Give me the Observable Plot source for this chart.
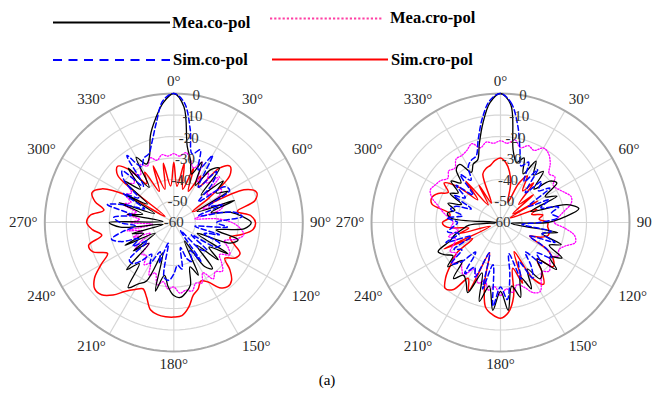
<!DOCTYPE html>
<html><head><meta charset="utf-8">
<script src="https://cdn.jsdelivr.net/npm/d3@7"></script>
<script src="https://cdn.jsdelivr.net/npm/@observablehq/plot@0.6"></script>
<style>
body{margin:0;background:#fff;width:652px;height:398px;overflow:hidden;font-family:'Liberation Serif','Times New Roman',serif}
#legend{display:block}
#chart svg{display:block}
#caption{height:26px;text-align:center;font-size:15px;line-height:16px;color:#000;padding-left:2px}
</style></head><body>
<svg id="legend" width="652" height="72"></svg>
<div id="chart"></div>
<div id="caption">(a)</div>
<script>
// angles (deg, clockwise from top) for every series
const angles = d3.range(0, 360, 5);
const angleTicks = [0,30,60,90,120,150,180,210,240,270,300,330];
const rTicks = [0,-10,-20,-30,-40,-50,-60];
const seriesNames = ["Mea.co-pol","Mea.cro-pol","Sim.co-pol","Sim.cro-pol"];

// ---- left pattern (dB) ----
const leftMeaCo = [0,-6,-24,-30,-36,-29,-40,-30,-27,-42,-30,-36,-31,-48,-30,-42,-33,-28,-24,-27,-40,-29,-32,-48,-31,-40,-33,-45,-32,-35,-50,-33,-38,-30,-27,-25,-26,-30,-35,-27,-45,-30,-27,-23,-35,-29,-45,-37,-50,-35,-45,-40,-55,-35,-30,-55,-38,-45,-33,-50,-34,-45,-30,-38,-27,-40,-25,-30,-27,-18,-11,-4];
const leftMeaCro = [-28,-29,-27,-30,-33,-29,-38,-32,-36,-30,-40,-33,-36,-45,-35,-38,-50,-40,-33,-29,-27,-30,-35,-32,-30,-34,-31,-28,-30,-28,-33,-29,-30,-27,-28,-27,-30,-29,-32,-30,-35,-33,-38,-36,-40,-39,-45,-38,-42,-48,-40,-45,-38,-50,-40,-44,-38,-42,-35,-38,-34,-36,-32,-34,-30,-33,-29,-31,-28,-30,-28,-29];
const leftSimCo = [0,-4,-16,-27,-24,-33,-24,-40,-29,-35,-45,-31,-30,-42,-36,-48,-32,-28,-40,-35,-50,-38,-45,-36,-37,-50,-40,-42,-55,-38,-45,-40,-42,-48,-38,-40,-36,-33,-34,-50,-40,-45,-38,-42,-37,-33,-33,-45,-38,-42,-34,-30,-36,-42,-35,-32,-40,-28,-36,-45,-33,-40,-30,-26,-38,-22,-30,-27,-26,-21,-13,-3];
const leftSimCro = [-32,-43,-32,-44,-33,-44,-35,-40,-27,-23,-26,-40,-50,-24,-19,-21,-30,-24,-22,-23,-28,-33,-30,-26,-27,-31,-26,-22,-21,-23,-28,-30,-27,-25,-20,-16.5,-16,-16,-16.5,-18,-23,-26,-24,-21,-16,-12.5,-12,-15,-21,-26,-20,-19,-26,-22,-19.5,-21,-27,-22,-19.5,-23,-35,-55,-26,-23,-28,-38,-33,-44,-32,-44,-32,-43];

// ---- right pattern (dB) ----
const rightMeaCo = [0,-5,-26,-31,-28,-35,-27,-33,-29,-38,-30,-28,-36,-31,-45,-28,-23,-30,-38,-55,-33,-40,-30,-35,-27,-32,-26,-36,-30,-28,-35,-26,-33,-24,-30,-19,-28,-19,-30,-22,-35,-24,-28,-30,-26,-35,-28,-33,-30,-28,-35,-38,-42,-45,-58,-37,-35,-38,-34,-40,-33,-36,-30,-34,-28,-27,-33,-30,-29,-22,-13,-4];
const rightMeaCro = [-22,-23,-21,-24,-22,-23,-20,-21,-24,-28,-27,-30,-29,-27,-25,-26,-30,-33,-35,-30,-25,-24,-28,-30,-29,-32,-30,-28,-30,-27,-23,-24,-28,-30,-27,-29,-26,-30,-28,-32,-30,-33,-35,-30,-32,-34,-31,-35,-33,-36,-38,-35,-40,-37,-38,-36,-33,-30,-26,-24,-25,-26,-28,-26,-27,-24,-24,-23,-21,-24,-22,-23];
const rightSimCo = [0,-4,-14,-25,-32,-29,-38,-30,-42,-33,-37,-32,-45,-35,-40,-32,-36,-33,-42,-50,-36,-40,-33,-45,-35,-31,-38,-33,-42,-35,-30,-40,-32,-45,-35,-24,-30,-21,-40,-28,-45,-32,-36,-31,-42,-34,-30,-38,-35,-45,-33,-40,-35,-38,-40,-35,-42,-36,-38,-45,-35,-40,-33,-42,-31,-36,-30,-28,-27,-20,-11,-3];
const rightSimCro = [-30,-32,-36,-42,-50,-40,-35,-42,-36,-48,-40,-53,-40,-55,-42,-45,-40,-42,-38,-38,-37,-37,-40,-45,-35,-30,-28,-36,-30,-25,-30,-45,-30,-38,-25,-18,-15.5,-17,-20,-32,-45,-25,-30,-22,-20,-24,-30,-35,-45,-31,-55,-40,-45,-35,-33,-36,-36,-27,-26,-28,-32,-28,-34,-45,-35,-50,-40,-50,-36,-34,-33,-31];

const U = 2.15;            // px per dB
const W = 652, H = 300;
const cxL = 173.3, cyPx = 150;
const offR = 326.7 / U;    // right pattern centre, in dB units

const pol = (off, dB, a) => {
  const r = Math.max(0, dB + 60), t = a * Math.PI / 180;
  return {x: off + r * Math.sin(t), y: r * Math.cos(t)};
};
const build = (off, vals, key) => vals.map((v, i) => ({...pol(off, v, angles[i]), key}));

const plots = [
  {off: 0, data: [leftMeaCo, leftMeaCro, leftSimCo, leftSimCro]},
  {off: offR, data: [rightMeaCo, rightMeaCro, rightSimCo, rightSimCro]}
];
const styles = {
  "Mea.co-pol": {stroke: "#000000", strokeWidth: 1.3},
  "Mea.cro-pol": {stroke: "#ff00ff", strokeWidth: 1.3, strokeDasharray: "1.3,1.6"},
  "Sim.co-pol": {stroke: "#0000ff", strokeWidth: 1.5, strokeDasharray: "5,3"},
  "Sim.cro-pol": {stroke: "#ff0000", strokeWidth: 1.5}
};
const series = {};
seriesNames.forEach(n => series[n] = []);
plots.forEach((p, pi) => p.data.forEach((vals, si) => {
  series[seriesNames[si]].push(...build(p.off, vals, seriesNames[si] + pi));
}));

// text anchors of the angle labels, like the source plotting program
const anchorOf = a => {
  const ta = (a === 0 || a === 180) ? "middle" : (a < 180 ? "start" : "end");
  const la = (a === 90 || a === 270) ? "middle" : ((a < 90 || a > 270) ? "bottom" : "top");
  return ta + "|" + la;
};

// grid
const ringAngles = d3.range(0, 360, 3);
const rings = [], outer = [], spokes = [], aLabels = [], rLabels = [];
plots.forEach((p, pi) => {
  rTicks.slice(1, 6).forEach(t => ringAngles.forEach(a => rings.push({...pol(p.off, t, a), key: pi + "_" + t})));
  ringAngles.forEach(a => outer.push({...pol(p.off, 0, a), key: "o" + pi}));
  angleTicks.forEach(a => {
    const e = pol(p.off, 0, a);
    spokes.push({x1: p.off, y1: 0, x2: e.x, y2: e.y});
    aLabels.push({...pol(p.off, 3.4, a), text: a + "°", anchor: anchorOf(a)});
  });
  rTicks.forEach(t => rLabels.push({...pol(p.off, t, 10), text: String(t)}));
});

const font = "Liberation Serif";
const lineMark = (n) => Plot.line(series[n], {x: "x", y: "y", z: "key", curve: "catmull-rom-closed", ...styles[n]});
const labelMarks = d3.groups(aLabels, d => d.anchor).map(([k, rows]) => {
  const [ta, la] = k.split("|");
  return Plot.text(rows, {x: "x", y: "y", text: "text", fontSize: 15, fill: "#262626", fontFamily: font, textAnchor: ta, lineAnchor: la});
});

const chart = Plot.plot({
  width: W, height: H,
  margin: 0,
  x: {domain: [-cxL / U, (W - cxL) / U], axis: null},
  y: {domain: [-(H - cyPx) / U, cyPx / U], axis: null},
  style: {fontFamily: font, background: "transparent", overflow: "visible"},
  marks: [
    Plot.link(spokes, {x1: "x1", y1: "y1", x2: "x2", y2: "y2", stroke: "#d6d6d6", strokeWidth: 1.2}),
    Plot.line(rings, {x: "x", y: "y", z: "key", curve: "linear-closed", stroke: "#d6d6d6", strokeWidth: 1.2}),
    Plot.line(outer, {x: "x", y: "y", z: "key", curve: "linear-closed", stroke: "#aaaaaa", strokeWidth: 2}),
    lineMark("Sim.cro-pol"),
    lineMark("Mea.cro-pol"),
    lineMark("Mea.co-pol"),
    lineMark("Sim.co-pol"),
    Plot.text(rLabels, {x: "x", y: "y", text: "text", fontSize: 15, fill: "#333", fontFamily: font}),
    ...labelMarks
  ]
});
document.getElementById("chart").appendChild(chart);

// legend
const lg = d3.select("#legend");
const legendItems = [
  {name: "Mea.co-pol", x1: 53, x2: 170, y: 22.5, tx: 172, ty: 27.5, color: "#000", dash: null, w: 2},
  {name: "Mea.cro-pol", x1: 270, x2: 383, y: 18.5, tx: 390, ty: 23, color: "#ff3fa4", dash: "2.2,2", w: 2},
  {name: "Sim.co-pol", x1: 53, x2: 170, y: 60, tx: 173, ty: 65, color: "#0000ff", dash: "9,6.5", w: 2},
  {name: "Sim.cro-pol", x1: 272, x2: 388, y: 59.5, tx: 391, ty: 65, color: "#ff0000", dash: null, w: 2}
];
legendItems.forEach(d => {
  lg.append("line").attr("x1", d.x1).attr("x2", d.x2).attr("y1", d.y).attr("y2", d.y)
    .attr("stroke", d.color).attr("stroke-width", d.w).attr("stroke-dasharray", d.dash);
  lg.append("text").attr("x", d.tx).attr("y", d.ty).text(d.name)
    .attr("font-family", font).attr("font-weight", "bold").attr("font-size", 16.5).attr("fill", "#000");
});
</script></body></html>
